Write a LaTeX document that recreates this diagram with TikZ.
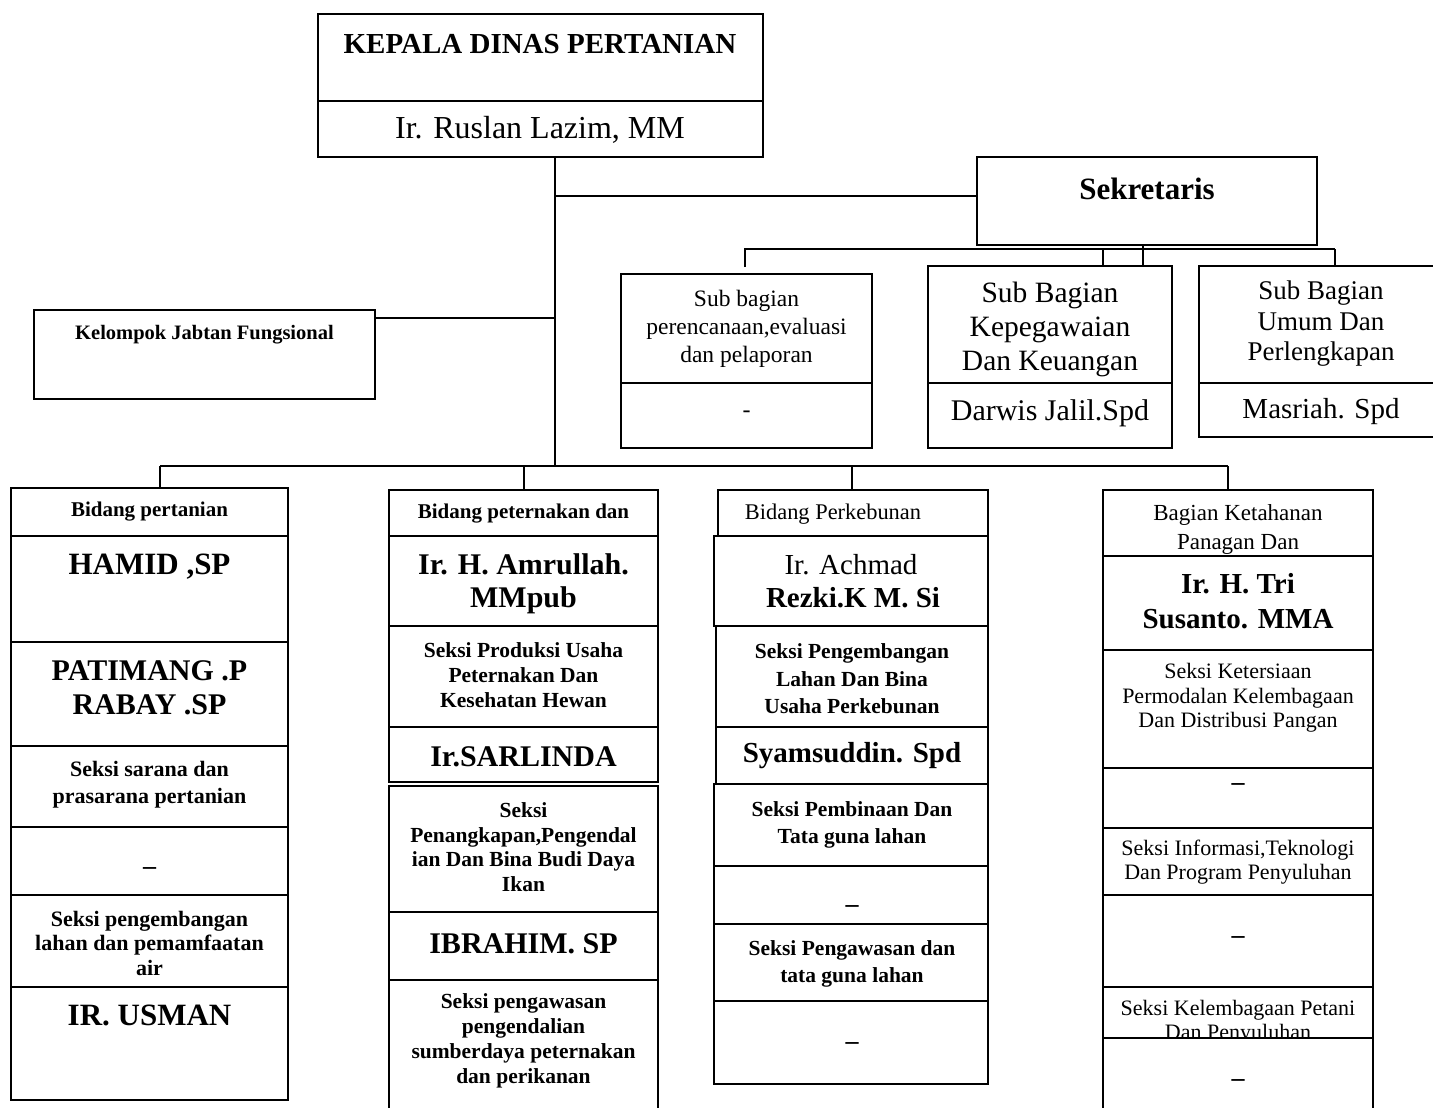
\documentclass[tikz,border=0pt]{standalone}
\usepackage{fontspec}
\setmainfont{Liberation Serif}
\usetikzlibrary{fit}
\newcommand\fsz[2]{\fontsize{#1}{#2}\selectfont}
\newcommand\mybox[5]{\node[box, fit={(#2,#3) (#4,#5)}] (#1) {};}
\begin{document}
\begin{tikzpicture}[x=1pt,y=-1pt,
  box/.style={draw, line width=1.4pt, fill=white, inner sep=0pt, outer sep=0pt},
  conn/.style={draw, line width=1.4pt},
  txt/.style={align=center, inner sep=0pt},
  bsec/.style={txt, font={\fsz{21.5}{25}\bfseries}},
  bname/.style={txt, font={\fsz{30}{33}\bfseries}},
  rsec/.style={txt, font={\fsz{22}{24.5}}},
  dsh/.style={inner sep=0pt, anchor=base, font={\fsz{26}{28}\bfseries}}]
\useasboundingbox (0,0) rectangle (1433,1108);
\fill[white] (0,0) rectangle (1433,1108);

% ---------- connectors ----------
\coordinate (j1) at (555,196);
\coordinate (j2) at (555,318);
\coordinate (j3) at (555,466);
\coordinate (b1) at (160,466);
\coordinate (b2) at (524,466);
\coordinate (b3) at (852,466);
\coordinate (b4) at (1228,466);
\coordinate (s1) at (745,249);
\coordinate (s1e) at (745,267);
\coordinate (s2) at (1103,249);
\coordinate (s3) at (1143,249);
\coordinate (s4) at (1335,249);

% ---------- top ----------
\mybox{kep1}{318}{14}{763}{101}
\mybox{kep2}{318}{101}{763}{157}
\node[txt, font={\fsz{29}{32}\bfseries}] (tkep1) at (540,44) {KEPALA DINAS PERTANIAN};
\node[txt, font={\fsz{32}{34}}] (tkep2) at (540,130) {Ir. Ruslan Lazim, MM};

\mybox{sek}{977}{157}{1317}{245}
\node[txt, font={\fsz{31}{33}\bfseries}] (tsek) at (1147,189) {Sekretaris};

\mybox{kjf}{34}{310}{375}{399}
\node[txt, font={\fsz{20.5}{24}\bfseries}] (tkjf) at (204.5,335) {Kelompok Jabtan Fungsional};

\draw[conn] (kep2.south -| j1) -- (j3);
\draw[conn] (j1) -- (j1 -| sek.west);
\draw[conn] (j2) -- (j2 -| kjf.east);

% ---------- sub bagian ----------
\mybox{sba}{621}{274}{872}{383}
\mybox{sbb}{621}{383}{872}{448}
\node[txt, font={\fsz{23.5}{28}}] (tsba) at (746.5,329) {Sub bagian\\perencanaan,evaluasi\\dan pelaporan};
\node[txt, font={\fsz{24}{28}}] (tsbb) at (746.5,414) {-};

\mybox{kpa}{928}{266}{1172}{383}
\mybox{kpb}{928}{383}{1172}{448}
\node[txt, font={\fsz{29.5}{34}}] (tkpa) at (1050,329) {Sub Bagian\\Kepegawaian\\Dan Keuangan};
\node[txt, font={\fsz{30}{34}}] (tkpb) at (1050,413) {Darwis Jalil.Spd};

\mybox{uma}{1199}{266}{1442}{383}
\mybox{umb}{1199}{383}{1442}{437}
\node[txt, font={\fsz{27}{30.5}}] (tuma) at (1321,324) {Sub Bagian\\Umum Dan\\Perlengkapan};
\node[txt, font={\fsz{29}{32}}] (tumb) at (1321,412) {Masriah. Spd};

\draw[conn] (s1e) -- (s1) -- (s4);
\draw[conn] (s4) -- (s4 |- uma.north);
\draw[conn] (s2) -- (s2 |- kpa.north);
\draw[conn] (sek.south -| s3) -- (s3 |- kpa.north);

% ---------- bus to bidang ----------
\draw[conn] (b1) -- (b4);

% ---------- column 1 ----------
\mybox{ca1}{11}{488}{288}{536}
\mybox{ca2}{11}{536}{288}{642}
\mybox{ca3}{11}{642}{288}{746}
\mybox{ca4}{11}{746}{288}{827}
\mybox{ca5}{11}{827}{288}{895}
\mybox{ca6}{11}{895}{288}{987}
\mybox{ca7}{11}{987}{288}{1100}
\node[txt, font={\fsz{21}{25}\bfseries}] (tca1) at (149.5,512) {Bidang pertanian};
\node[txt, font={\fsz{31}{34}\bfseries}] (tca2) at (149.5,567) {HAMID ,SP};
\node[txt, font={\fsz{30}{34}\bfseries}] (tca3) at (149.5,688) {PATIMANG .P\\RABAY .SP};
\node[txt, font={\fsz{22}{27}\bfseries}] (tca4) at (149.5,785) {Seksi sarana dan\\prasarana pertanian};
\node[dsh] (tca5) at (149.5,874) {--};
\node[txt, font={\fsz{22}{24.5}\bfseries}] (tca6) at (149.5,943) {Seksi pengembangan\\lahan dan pemamfaatan\\air};
\node[txt, font={\fsz{31}{34}\bfseries}] (tca7) at (149.5,1015) {IR. USMAN};
\draw[conn] (b1) -- (b1 |- ca1.north);

% ---------- column 2 ----------
\mybox{cb1}{389}{490}{658}{536}
\mybox{cb2}{389}{536}{658}{626}
\mybox{cb3}{389}{626}{658}{727}
\mybox{cb4}{389}{727}{658}{782}
\mybox{cb5}{389}{786}{658}{912}
\mybox{cb6}{389}{912}{658}{980}
\mybox{cb7}{389}{980}{658}{1118}
\node[txt, font={\fsz{21}{25}\bfseries}] (tcb1) at (523.5,514) {Bidang peternakan dan};
\node[bname] (tcb2) at (523.5,584) {Ir. H. Amrullah.\\MMpub};
\node[bsec] (tcb3) at (523.5,675) {Seksi Produksi Usaha\\Peternakan Dan\\Kesehatan Hewan};
\node[bname] (tcb4) at (523.5,757) {Ir.SARLINDA};
\node[bsec, font={\fsz{21.5}{24.7}\bfseries}] (tcb5) at (523.5,847) {Seksi\\Penangkapan,Pengendal\\ian Dan Bina Budi Daya\\Ikan};
\node[bname] (tcb6) at (523.5,944) {IBRAHIM. SP};
\node[bsec] (tcb7) at (523.5,1040.5) {Seksi pengawasan\\pengendalian\\sumberdaya peternakan\\dan perikanan};
\draw[conn] (b2) -- (b2 |- cb1.north);

% ---------- column 3 ----------
\mybox{cc1}{718}{490}{988}{536}
\mybox{cc2}{714}{536}{988}{626}
\mybox{cc3}{716}{626}{988}{727}
\mybox{cc4}{716}{727}{988}{784}
\mybox{cc5}{714}{784}{988}{866}
\mybox{cc6}{714}{866}{988}{924}
\mybox{cc7}{714}{924}{988}{1001}
\mybox{cc8}{714}{1001}{988}{1084}
\node[txt, font={\fsz{22.4}{25}}] (tcc1) at (833,514) {Bidang Perkebunan};
\node[txt, font={\fsz{29}{32}}] (tcc2a) at (851,565) {Ir. Achmad};
\node[txt, font={\fsz{29}{32}\bfseries}] (tcc2b) at (853,598) {Rezki.K M. Si};
\node[bsec, font={\fsz{21.5}{27.5}\bfseries}] (tcc3) at (852,679) {Seksi Pengembangan\\Lahan Dan Bina\\Usaha Perkebunan};
\node[txt, font={\fsz{29}{32}\bfseries}] (tcc4) at (852,756) {Syamsuddin. Spd};
\node[bsec, font={\fsz{21.5}{27.5}\bfseries}] (tcc5) at (852,825) {Seksi Pembinaan Dan\\Tata guna lahan};
\node[dsh] (tcc6) at (852,912) {--};
\node[bsec, font={\fsz{21.5}{27.5}\bfseries}] (tcc7) at (852,964) {Seksi Pengawasan dan\\tata guna lahan};
\node[dsh] (tcc8) at (852,1049) {--};
\draw[conn] (b3) -- (b3 |- cc1.north);

% ---------- column 4 ----------
\mybox{cd1}{1103}{490}{1373}{556}
\node[txt, font={\fsz{23}{29}}] (tcd1) at (1238,529) {Bagian Ketahanan\\Panagan Dan};
\mybox{cd2}{1103}{556}{1373}{650}
\node[txt, font={\fsz{29}{35}\bfseries}] (tcd2) at (1238,601) {Ir. H. Tri\\Susanto. MMA};
\mybox{cd3}{1103}{650}{1373}{768}
\node[rsec] (tcd3) at (1238,698) {Seksi Ketersiaan\\Permodalan Kelembagaan\\Dan Distribusi Pangan};
\mybox{cd4}{1103}{768}{1373}{828}
\node[dsh] (tcd4) at (1238,790) {--};
\mybox{cd5}{1103}{828}{1373}{895}
\node[rsec] (tcd5) at (1238,862) {Seksi Informasi,Teknologi\\Dan Program Penyuluhan};
\mybox{cd6}{1103}{895}{1373}{987}
\node[dsh] (tcd6) at (1238,943) {--};
\mybox{cd7}{1103}{987}{1373}{1038}
\node[rsec] (tcd7) at (1238,1022) {Seksi Kelembagaan Petani\\Dan Penyuluhan};
\mybox{cd8}{1103}{1038}{1373}{1118}
\node[dsh] (tcd8) at (1238,1086) {--};
\draw[conn] (b4) -- (b4 |- cd1.north);
\end{tikzpicture}
\end{document}
